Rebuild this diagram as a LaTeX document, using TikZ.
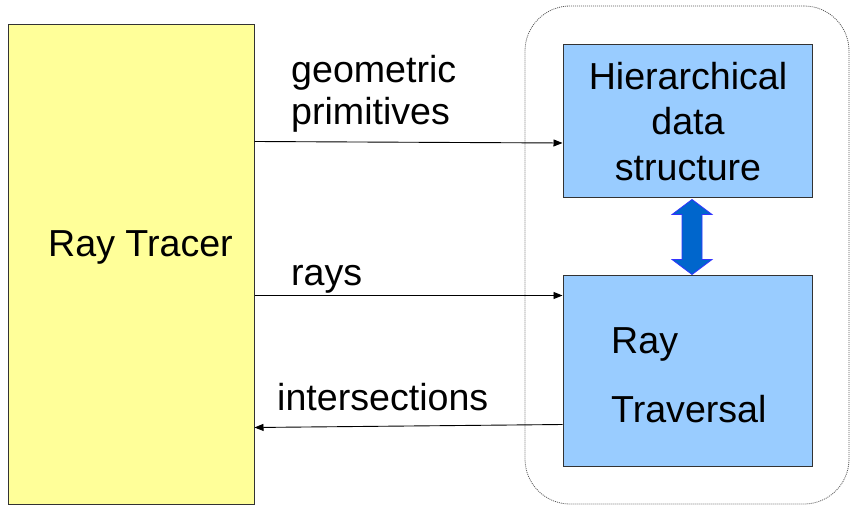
\documentclass[tikz,border=0pt]{standalone}
\usepackage{fontspec}
\setmainfont{Liberation Sans}
\usetikzlibrary{calc,arrows.meta}
\definecolor{rtyellow}{HTML}{FFFF99}
\definecolor{boxblue}{HTML}{99CCFF}
\definecolor{arrblue}{HTML}{0066CC}
\definecolor{arredge}{HTML}{3333FF}
\begin{document}
\begin{tikzpicture}[x=1pt,y=-1pt,
  lbl/.style={font=\fontsize{37.6}{45}\selectfont, inner sep=0pt, anchor=base west},
  clbl/.style={font=\fontsize{37.6}{45}\selectfont, inner sep=0pt, anchor=base},
  conn/.style={draw=black, line width=0.9pt, -{Triangle[length=9pt,width=7pt]}},
  bluebox/.style={draw=black!80, line width=1pt, fill=boxblue, inner sep=0pt, minimum width=249pt},
]
\useasboundingbox (0,0) rectangle (850,505);
% dotted container
\node[draw=black!65, line width=0.8pt, dash pattern=on 1pt off 1pt, rounded corners=45pt,
      minimum width=324pt, minimum height=498pt, inner sep=0pt] (grp) at (687,255) {};
% boxes
\node[draw=black!80, line width=1pt, fill=rtyellow, minimum width=246pt,
      minimum height=479pt, inner sep=0pt] (rt) at (131,264.5) {};
\node[bluebox, minimum height=152pt] (hds) at (687.5,121) {};
\node[bluebox, minimum height=191pt] (rtv) at (687.5,370.5) {};
% texts
\node[lbl] (trt) at (48,256) {Ray Tracer};
\node[clbl] (th1) at (688,90) {Hierarchical};
\node[clbl] (th2) at (688,135) {data};
\node[clbl] (th3) at (688,180) {structure};
\node[lbl] (tr1) at (611,353) {Ray};
\node[lbl] (tr2) at (611,422) {Traversal};
\node[lbl] (tg1) at (291,83) {geometric};
\node[lbl] (tg2) at (291,125) {primitives};
\node[lbl] (trays) at (291,285) {rays};
\node[lbl] (tint) at (277,410) {intersections};
% connectors
\draw[conn] ([yshift=-117pt]rt.north east) -- ([yshift=-22pt]hds.west);
\draw[conn] ([yshift=-271pt]rt.north east) -- ([yshift=-21pt]rtv.north west);
\draw[conn] ([yshift=-150pt]rtv.north west) -- ([yshift=-403pt]rt.north east);
% double arrow
\coordinate (dt) at ([xshift=4.5pt,yshift=-2pt]hds.south);
\coordinate (db) at ([xshift=4.5pt]rtv.north);
\filldraw[fill=arrblue, draw=arredge, line width=0.8pt]
  (dt) -- ++(-20pt,-15pt) -- ++(10pt,0pt) -- ($(db)+(-10pt,15pt)$) -- ++(-10pt,0pt)
  -- (db) -- ++(20pt,15pt) -- ++(-10pt,0pt) -- ($(dt)+(10pt,-15pt)$) -- ++(10pt,0pt) -- cycle;
\end{tikzpicture}
\end{document}
